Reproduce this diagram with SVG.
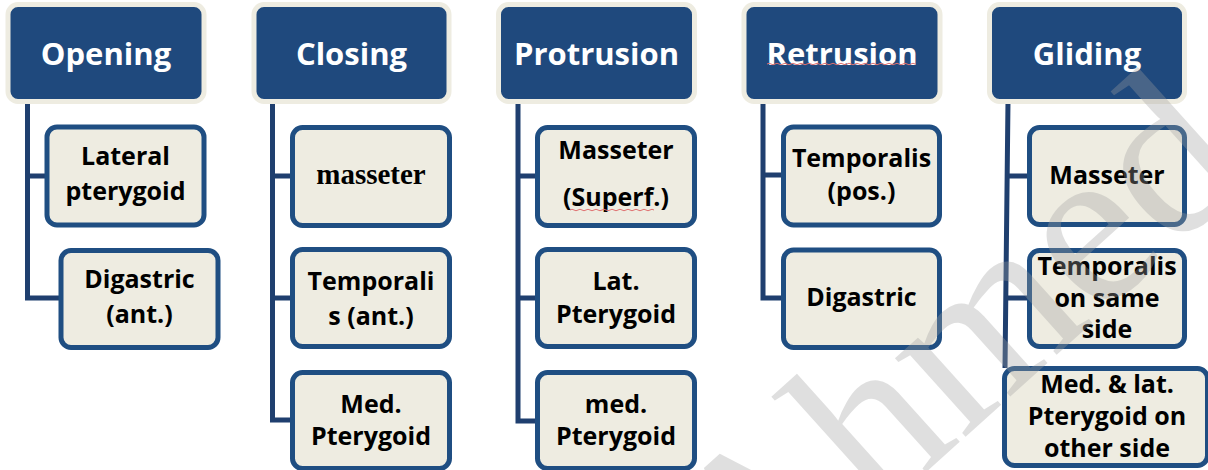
<svg xmlns="http://www.w3.org/2000/svg" width="1208" height="470" viewBox="0 0 1208 470">
<style>
.hd{fill:#1f497d;stroke:#eeece1;stroke-width:5}
.bx{fill:#eeece1;stroke:#1f4e82;stroke-width:5}
.ht{font-family:"Open Sans","Liberation Sans",sans-serif;font-weight:700;font-size:31px;fill:#ffffff;text-anchor:middle}
.t{font-family:"Open Sans","Liberation Sans",sans-serif;font-weight:700;font-size:25px;fill:#000;text-anchor:middle}
.sf{font-family:"Liberation Serif","Times New Roman",serif;font-weight:700;font-size:29px;fill:#000;text-anchor:middle}
.cn{fill:none;stroke:#1f3f6f;stroke-width:5}
.sq{fill:none;stroke:#e07070;stroke-width:1}
</style>
<rect width="1208" height="470" fill="#ffffff"/>
<g id="connectors" class="cn">
<path d="M27.5,101 V298 H61 M27.5,176 H47"/>
<path d="M272.5,101 V420 H292.5 M272.5,176 H292.5 M272.5,298 H292.5"/>
<path d="M518,101 V421 H537 M518,176 H537 M518,298 H537"/>
<path d="M763,101 V298 H783 M763,175 H783"/>
<path d="M1008,101 L1005,368 M1007,176 H1029 M1006,298 H1029"/>
</g>
<g id="opening">
<rect class="hd" x="8" y="4.5" width="196" height="97" rx="10"/>
<text class="ht" x="106" y="65">Opening</text>
</g>
<g id="opening-lateral-pterygoid">
<rect class="bx" x="47" y="127" width="157" height="98" rx="10"/>
<text class="t" x="125.5" y="165">Lateral</text>
<text class="t" x="125.5" y="200">pterygoid</text>
</g>
<g id="opening-digastric">
<rect class="bx" x="61" y="250.5" width="157" height="97" rx="10"/>
<text class="t" x="139.5" y="288">Digastric</text>
<text class="t" x="139.5" y="323">(ant.)</text>
</g>
<g id="closing">
<rect class="hd" x="254" y="4.5" width="195" height="97" rx="10"/>
<text class="ht" x="351.5" y="65">Closing</text>
</g>
<g id="closing-masseter">
<rect class="bx" x="292.5" y="127.5" width="157" height="98" rx="10"/>
<text class="sf" x="371" y="184">masseter</text>
</g>
<g id="closing-temporalis">
<rect class="bx" x="292.5" y="249.5" width="157" height="97" rx="10"/>
<text class="t" x="371" y="290">Temporali</text>
<text class="t" x="371" y="325">s (ant.)</text>
</g>
<g id="closing-med-pterygoid">
<rect class="bx" x="292.5" y="372.5" width="157" height="96" rx="10"/>
<text class="t" x="371" y="413">Med.</text>
<text class="t" x="371" y="445">Pterygoid</text>
</g>
<g id="protrusion">
<rect class="hd" x="498.5" y="4.5" width="196" height="97" rx="10"/>
<text class="ht" x="596.5" y="65">Protrusion</text>
</g>
<g id="protrusion-masseter">
<rect class="bx" x="537.5" y="127.5" width="157" height="98" rx="10"/>
<text class="t" x="616" y="159">Masseter</text>
<text class="t" x="616" y="206">(Superf.)</text>
<path class="sq" d="M570,210 q2,-1.5 4,0 t4,0 t4,0 t4,0 t4,0 t4,0 t4,0 t4,0 t4,0 t4,0 t4,0 t4,0 t4,0 t4,0 t4,0 t4,0 t4,0 t4,0 t4,0 t4,0 t4,0"/>
</g>
<g id="protrusion-lat-pterygoid">
<rect class="bx" x="537.5" y="249.5" width="157" height="97" rx="10"/>
<text class="t" x="616" y="290">Lat.</text>
<text class="t" x="616" y="323">Pterygoid</text>
</g>
<g id="protrusion-med-pterygoid">
<rect class="bx" x="537.5" y="372.5" width="157" height="96" rx="10"/>
<text class="t" x="616" y="413">med.</text>
<text class="t" x="616" y="445">Pterygoid</text>
</g>
<g id="retrusion">
<rect class="hd" x="744" y="4.5" width="196" height="97" rx="10"/>
<text class="ht" x="842" y="65">Retrusion</text>
<path class="sq" d="M767,64 q2,-1.5 4,0 t4,0 t4,0 t4,0 t4,0 t4,0 t4,0 t4,0 t4,0 t4,0 t4,0 t4,0 t4,0 t4,0 t4,0 t4,0 t4,0 t4,0 t4,0 t4,0 t4,0 t4,0 t4,0 t4,0 t4,0 t4,0 t4,0 t4,0 t4,0 t4,0 t4,0 t4,0 t4,0 t4,0 t4,0 t4,0 t4,0"/>
</g>
<g id="retrusion-temporalis">
<rect class="bx" x="783.5" y="127" width="156" height="98" rx="10"/>
<text class="t" x="861.5" y="167">Temporalis</text>
<text class="t" x="861.5" y="200">(pos.)</text>
</g>
<g id="retrusion-digastric">
<rect class="bx" x="783.5" y="250" width="156" height="97.5" rx="10"/>
<text class="t" x="861.5" y="306">Digastric</text>
</g>
<g id="gliding">
<rect class="hd" x="989.5" y="4.5" width="195" height="97" rx="10"/>
<text class="ht" x="1087" y="65">Gliding</text>
</g>
<g id="gliding-masseter">
<rect class="bx" x="1029.5" y="127.5" width="155" height="97" rx="10"/>
<text class="t" x="1107" y="184">Masseter</text>
</g>
<g id="gliding-temporalis">
<rect class="bx" x="1029.5" y="250.5" width="155" height="96" rx="10"/>
<text class="t" x="1107" y="275">Temporalis</text>
<text class="t" x="1107" y="306.5">on same</text>
<text class="t" x="1107" y="338">side</text>
</g>
<g id="gliding-pterygoid">
<rect class="bx" x="1004.5" y="368.5" width="203" height="97" rx="10"/>
<text class="t" x="1107" y="393">Med. &amp; lat.</text>
<text class="t" x="1107" y="425">Pterygoid on</text>
<text class="t" x="1107" y="457">other side</text>
</g>
<text id="watermark" x="0" y="0" transform="translate(753,628) rotate(-42)" font-family="Liberation Serif,serif" font-size="230" fill="#a0a0a0" opacity="0.33">Ahmed</text>
</svg>
